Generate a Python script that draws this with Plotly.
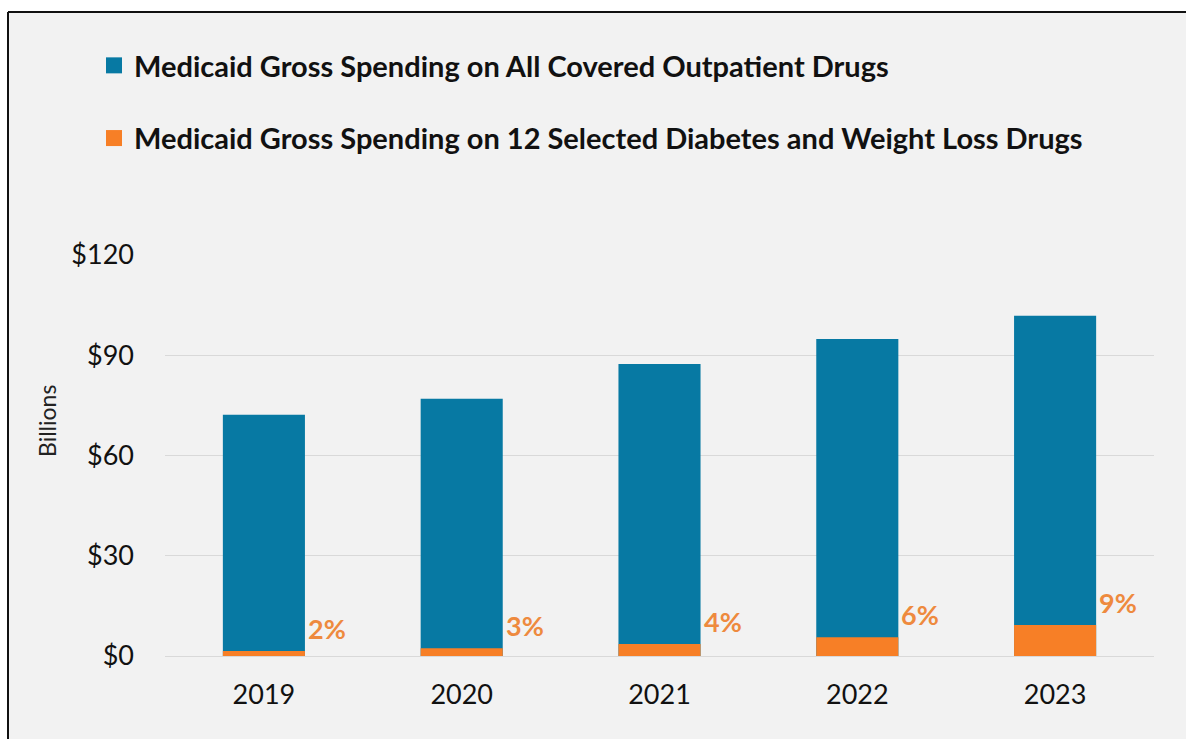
import plotly.graph_objects as go

# Medicaid gross spending, billions of dollars
years = ["2019", "2020", "2021", "2022", "2023"]
all_drugs = [72.2, 77.0, 87.4, 94.9, 101.8]
diabetes_wl = [1.5, 2.3, 3.6, 5.6, 9.3]

y_ticks = [0, 30, 60, 90, 120]
y_tick_text = [f"${v}" for v in y_ticks]

name_all = "Medicaid Gross Spending on All Covered Outpatient Drugs"
name_sel = "Medicaid Gross Spending on 12 Selected Diabetes and Weight Loss Drugs"

share_labels = [f"{round(100 * s / t)}%" for s, t in zip(diabetes_wl, all_drugs)]

BLUE = "#0779A3"
ORANGE = "#F77F26"
LABEL_ORANGE = "#EE8A3E"
BG = "#F2F2F2"
GRID = "#D9D9D9"
FONT = "Lato"

W, H = 1186, 739
ML, MR, MT, MB = 165, 32, 255, 83


def px_to_paper_x(px):
    return (px - ML) / (W - ML - MR)


def px_to_paper_y(py):
    return (H - MB - py) / (H - MT - MB)


fig = go.Figure()
for vals, name, color, grp in [(all_drugs, name_all, BLUE, "a"),
                               (diabetes_wl, name_sel, ORANGE, "b")]:
    fig.add_trace(go.Bar(
        x=years, y=vals, name=name, marker_color=color,
        marker_line_width=0, legendgroup=grp, showlegend=False,
    ))
    # legend entry with a larger square swatch
    fig.add_trace(go.Scatter(
        x=[None], y=[None], mode="markers", name=name, legendgroup=grp,
        marker=dict(symbol="square", size=16, color=color, line_width=0),
    ))

# share-of-total labels beside each orange bar (category index as x)
for i, (v, lab) in enumerate(zip(diabetes_wl, share_labels)):
    fig.add_annotation(
        x=i, y=v, text=f"<b>{lab}</b>", showarrow=False,
        xanchor="left", yanchor="bottom", xshift=42, yshift=4,
        font=dict(family=FONT, size=27, color=LABEL_ORANGE),
    )

fig.add_annotation(
    x=px_to_paper_x(47), y=px_to_paper_y(421), xref="paper", yref="paper",
    xanchor="center", yanchor="middle",
    text="Billions", textangle=-90, showarrow=False,
    font=dict(family=FONT, size=23, color="#222222"),
)

# panel background with a frame along the top and left edges
fig.add_shape(type="rect", xref="paper", yref="paper", layer="below",
              x0=px_to_paper_x(8), x1=px_to_paper_x(W + 5),
              y0=px_to_paper_y(H + 5), y1=px_to_paper_y(12),
              fillcolor=BG, line_width=0)
fig.add_shape(type="line", xref="paper", yref="paper",
              x0=px_to_paper_x(8), x1=px_to_paper_x(W + 5),
              y0=px_to_paper_y(12), y1=px_to_paper_y(12),
              line=dict(color="#111111", width=2))
fig.add_shape(type="line", xref="paper", yref="paper",
              x0=px_to_paper_x(8), x1=px_to_paper_x(8),
              y0=px_to_paper_y(12), y1=px_to_paper_y(H + 5),
              line=dict(color="#111111", width=2))

fig.update_layout(
    width=W, height=H,
    margin=dict(l=ML, r=MR, t=MT, b=MB, pad=0),
    barmode="overlay", bargap=0.585,
    paper_bgcolor="white", plot_bgcolor=BG,
    font=dict(family=FONT, color="#111111"),
    legend=dict(
        x=px_to_paper_x(94), y=px_to_paper_y(40), xanchor="left", yanchor="top",
        font=dict(family=FONT, size=29, color="#111111", weight="bold"),
        bgcolor="rgba(0,0,0,0)", tracegroupgap=32, traceorder="grouped",
    ),
    xaxis=dict(
        type="category", range=[-0.5, len(years) - 0.5],
        tickfont=dict(family=FONT, size=27, color="#111111"),
        showgrid=False, showline=False, ticks="", ticklabelstandoff=20,
    ),
    yaxis=dict(
        range=[0, 120], tickvals=y_ticks, ticktext=y_tick_text,
        tickfont=dict(family=FONT, size=27, color="#111111"),
        gridcolor=GRID, gridwidth=1, zeroline=True, zerolinecolor=GRID,
        zerolinewidth=1, showline=False, ticks="", ticklabelstandoff=30,
    ),
)

fig.write_html("out.html")
